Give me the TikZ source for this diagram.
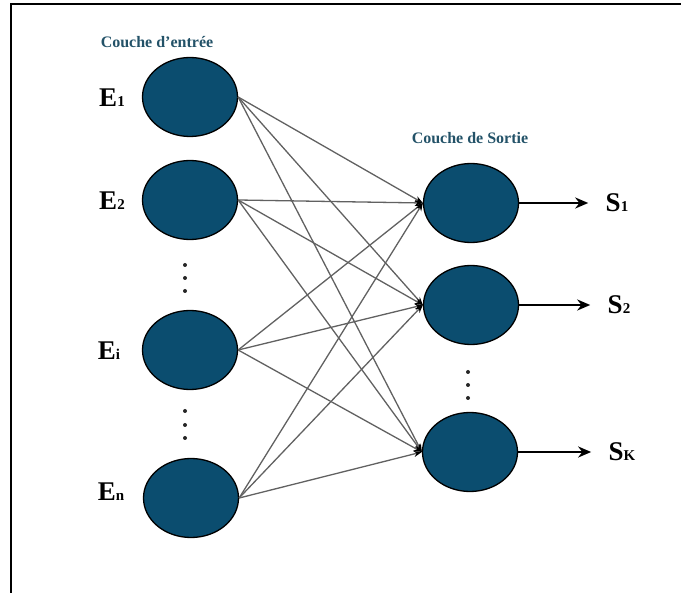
\documentclass[tikz,border=0pt]{standalone}
\usepackage{fontspec}
\setmainfont{Liberation Serif}
\usepackage{tikz}
\usetikzlibrary{positioning}
\usetikzlibrary{shapes.geometric}
\usetikzlibrary{arrows.meta}
\usetikzlibrary{calc}

\definecolor{neuronblue}{RGB}{11,77,111}
\definecolor{titleblue}{RGB}{35,82,104}

% big letter with a small index set on the baseline
\newcommand{\unitname}[2]{{\fontsize{27}{27}\selectfont\bfseries #1}{\fontsize{15}{15}\selectfont\bfseries #2}}

\begin{document}
\begin{tikzpicture}[x=1pt,y=-1pt,
  neuron/.style={ellipse,draw=black,line width=1.3pt,fill=neuronblue,
    minimum width=95pt,minimum height=79pt,inner sep=0pt},
  link/.style={draw=black!62,line width=1.3pt,-{Stealth[length=8pt,width=6pt,black]}},
  outlink/.style={draw=black,line width=2.2pt,-{Stealth[length=13pt,width=11pt]},shorten >=14pt},
  layer/.style={text=titleblue,font=\fontsize{16}{16}\selectfont\bfseries},
  dot/.style={fill=black!85}]
  \useasboundingbox (0,0) rectangle (681,593);
  \draw[line width=1.4pt] (11,593) -- (11,4) -- (681,4);

  % input layer
  \node[layer] (InTitle) at (157,42) {Couche d'entrée};
  \node[neuron] (E1) at (190,97) {};
  \node[neuron] (E2) at (190,200) {};
  \node[neuron] (Ei) at (190,350) {};
  \node[neuron] (En) at (191,498) {};
  \node (LE1) at (112,98) {\unitname{E}{1}};
  \node (LE2) at (112,201) {\unitname{E}{2}};
  \node (LEi) at (109,351) {\unitname{E}{i}};
  \node (LEn) at (111,492) {\unitname{E}{n}};
  \foreach \y in {265,278,291,411,425,438}
    \fill[dot] (185,\y) circle (2pt);

  % output layer
  \node[layer] (OutTitle) at (470,138) {Couche de Sortie};
  \node[neuron] (O1) at (471,203) {};
  \node[neuron] (O2) at (471,305) {};
  \node[neuron] (Ok) at (470,452) {};
  \foreach \y in {372,385,398}
    \fill[dot] (468,\y) circle (2pt);
  \node (S1) at (617,203) {\unitname{S}{1}};
  \node (S2) at (619,305) {\unitname{S}{2}};
  \node (Sk) at (622,452) {\unitname{S}{K}};

  % weights
  \foreach \i in {E1,E2,Ei,En}
    \foreach \o in {O1,O2,Ok}
      \draw[link] (\i.east) -- (\o.west);

  \draw[outlink] (O1.east) -- (S1.west);
  \draw[outlink] (O2.east) -- (S2.west);
  \draw[outlink] (Ok.east) -- (Sk.west);
\end{tikzpicture}
\end{document}
